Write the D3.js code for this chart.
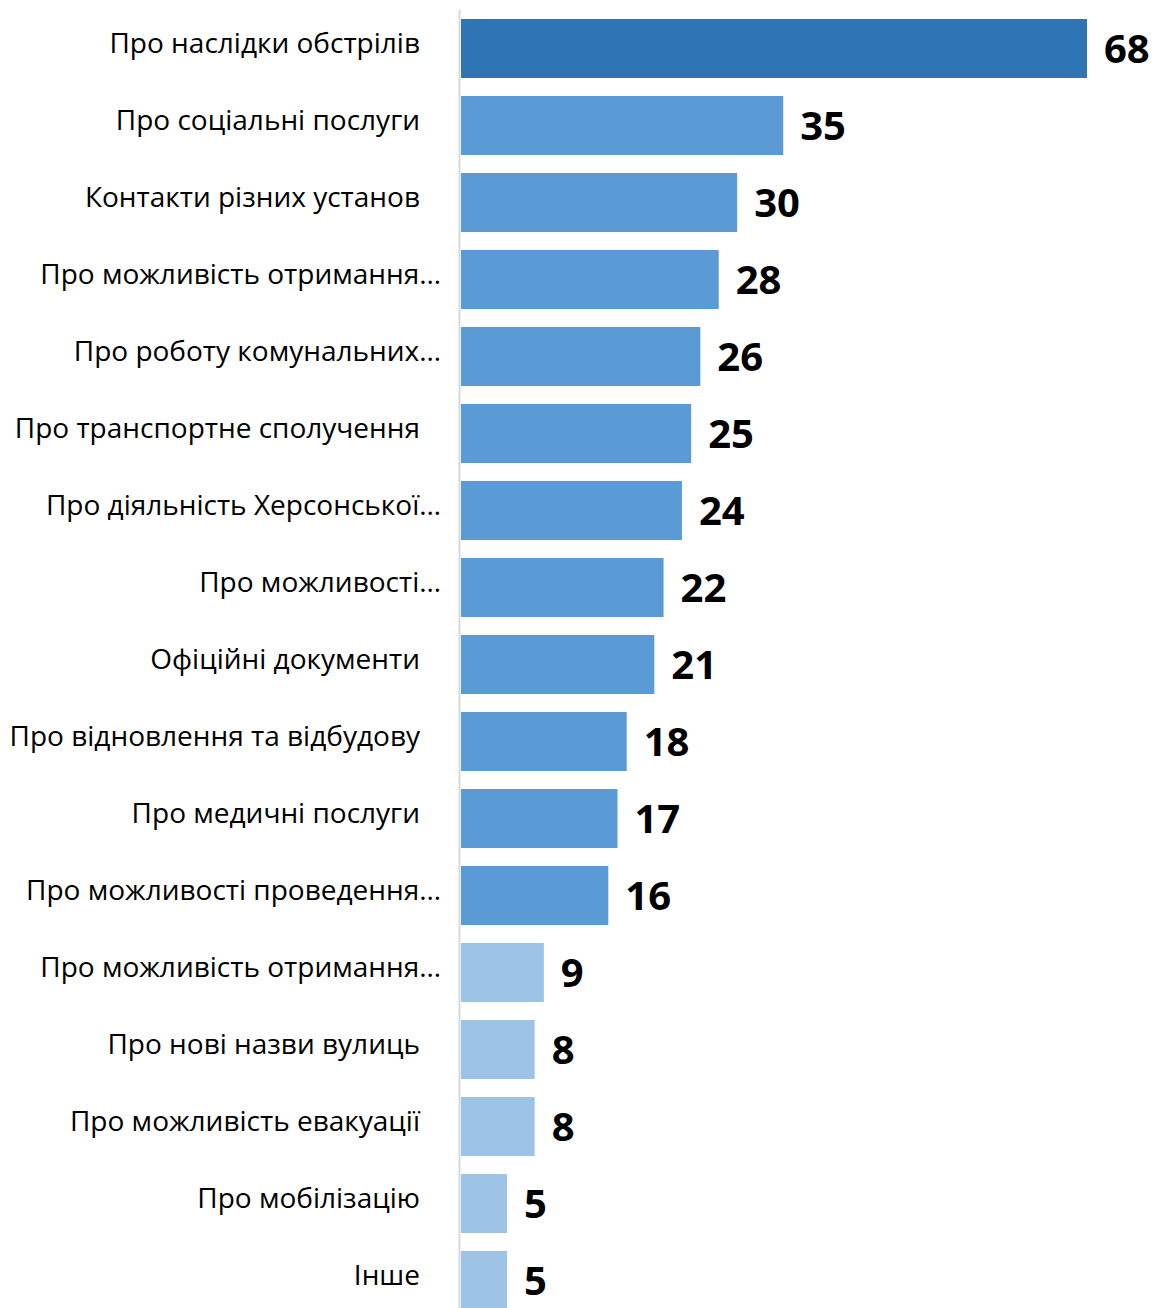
<!DOCTYPE html>
<html>
<head>
<meta charset="utf-8">
<script src="https://cdn.jsdelivr.net/npm/d3@7"></script>
<style>
  body { margin: 0; background: #fff; }
</style>
</head>
<body>
<div id="chart"></div>
<script>
var categories = [
  "Про наслідки обстрілів",
  "Про соціальні послуги",
  "Контакти різних установ",
  "Про можливість отримання…",
  "Про роботу комунальних…",
  "Про транспортне сполучення",
  "Про діяльність Херсонської…",
  "Про можливості…",
  "Офіційні документи",
  "Про відновлення та відбудову",
  "Про медичні послуги",
  "Про можливості проведення…",
  "Про можливість отримання…",
  "Про нові назви вулиць",
  "Про можливість евакуації",
  "Про мобілізацію",
  "Інше"
];
var values = [68, 35, 30, 28, 26, 25, 24, 22, 21, 18, 17, 16, 9, 8, 8, 5, 5];

var width = 1153, height = 1308;

var svg = d3.select("#chart")
  .append("svg")
    .attr("width", width)
    .attr("height", height);

var x = d3.scaleLinear()
  .domain([0, 68])
  .range([461, 1087]);

// band keys by index, since two labels repeat
var y = d3.scaleBand()
  .domain(d3.range(categories.length))
  .range([10, 1319])
  .paddingInner(18 / 77)
  .paddingOuter(9 / 77);

function barColor(d, i) {
  if (i === 0) return "#2E75B6";
  if (d >= 16) return "#5B9BD5";
  return "#9DC3E6";
}

svg.selectAll("rect.bar")
  .data(values)
  .enter()
  .append("rect")
    .attr("class", "bar")
    .attr("x", x(0))
    .attr("y", function(d, i) { return y(i); })
    .attr("width", function(d) { return x(d) - x(0); })
    .attr("height", y.bandwidth())
    .attr("fill", barColor);

// vertical axis line
svg.append("line")
  .attr("x1", 459.5)
  .attr("x2", 459.5)
  .attr("y1", 10)
  .attr("y2", height)
  .attr("stroke", "#d9d9d9")
  .attr("stroke-width", 2);

// category labels
svg.selectAll("text.cat")
  .data(categories)
  .enter()
  .append("text")
    .attr("class", "cat")
    .attr("x", function(d) { return d.slice(-1) === "…" ? 441 : 420; })
    .attr("y", function(d, i) { return y(i) + y.bandwidth() / 2 - 5; })
    .attr("dy", "0.35em")
    .attr("text-anchor", "end")
    .style("font-family", "'Open Sans', sans-serif")
    .style("font-size", "28px")
    .style("fill", "#000")
    .text(function(d) { return d; });

// value labels
svg.selectAll("text.val")
  .data(values)
  .enter()
  .append("text")
    .attr("class", "val")
    .attr("x", function(d) { return x(d) + 17; })
    .attr("y", function(d, i) { return y(i) + y.bandwidth() / 2; })
    .attr("dy", "0.36em")
    .attr("text-anchor", "start")
    .style("font-family", "'Open Sans', sans-serif")
    .style("font-size", "40px")
    .style("font-weight", "bold")
    .style("fill", "#000")
    .text(function(d) { return d; });
</script>
</body>
</html>
